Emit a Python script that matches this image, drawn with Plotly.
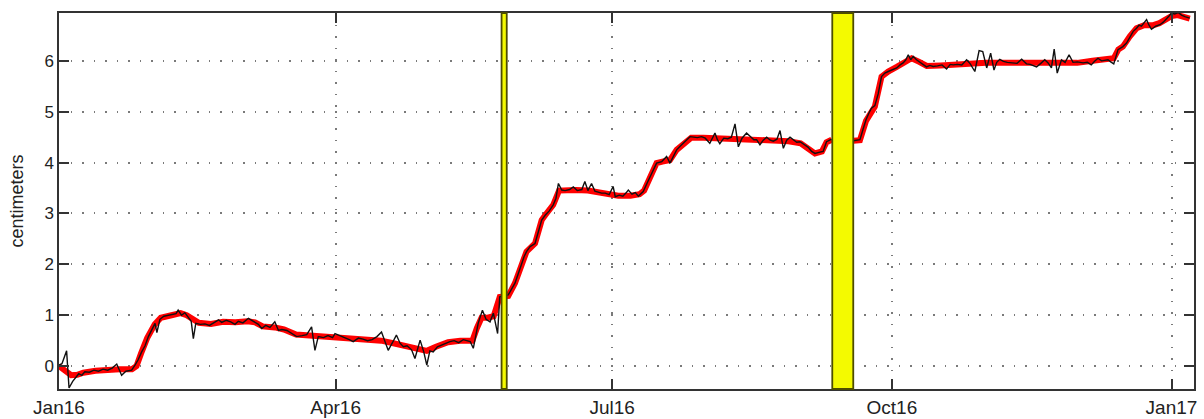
import pandas as pd
import plotly.graph_objects as go

START = "2016-01-01"

# Raw daily position (black thin line): day offsets from START and values (cm)
raw_days = [0, 1, 2.5, 3.3, 4.5, 5.5, 6.5, 7.5, 8.5, 10, 11.5, 13, 14.5, 16, 17.5, 19, 20.6, 22, 23.9,
            25, 26, 27.2, 28.3, 29.4, 30.5, 31.6, 32.2, 33.2, 34.5, 36, 37.5, 38.5, 39.2, 40.3, 41.4,
            42.5, 43.5, 44.2, 45, 46.5, 48, 49.5, 51, 52.5, 53.5, 55, 56.5, 57.9, 59, 60.5, 62.3, 63.4,
            64.5, 65.6, 66.7, 68, 69.4, 71, 72.2, 73.3, 75, 76.5, 78.2, 80, 81.5, 83.1, 84.2, 85.3, 87,
            88.5, 90, 90.8, 92.5, 94, 95.5, 96.8, 98.5, 100, 101.5, 103, 104.6, 106.1, 107.2, 108.3,
            109.6, 111, 112.2, 113.3, 114.5, 116, 117.1, 118, 118.8, 120, 121, 122, 123.1, 124.5, 126,
            127.5, 128.6, 130, 131.5, 133, 134.5, 135.3, 136.3, 137.2, 137.9, 139.3, 140.5, 141.8,
            142.9, 144.3, 145,
            147.8, 149, 150, 151, 152.2, 153, 153.8, 155, 156.6, 157.5, 158.8, 160, 161.3, 162.6, 163.5,
            164.3, 165.4, 166.5, 168, 169.2, 170.5, 172, 173, 174, 175.2, 176.3, 177.5, 178.5, 179.7,
            181, 182.3, 183, 184.3, 185.5, 186.5, 187.3, 188.5, 189.6, 190.6, 192.2, 193.5, 195, 196.6,
            198.3, 199.9, 201, 202.2, 203.2, 204.5, 205.9, 207.6, 208.8, 210, 211.4, 212.6, 214.1,
            215.8, 216.6, 217.4, 218.7, 220, 221.2, 222.4, 223.5, 224.7, 226.2, 227.5, 228.6, 229.5,
            230.6, 231.7, 232.8, 234, 235, 236.2, 237.2, 238.3, 239.4, 240.5, 241.6, 242.7, 243.8, 245,
            246.5, 247.6, 248.7, 250, 251.4, 252.5, 254.2,
            257.8,
            261.3, 263.5, 264.5, 265.5, 266.5, 267.3, 268.4, 269.5, 270.6, 271.7, 272.8, 274, 275.6,
            276.7, 277.7, 278.6, 279.4, 280.2, 281, 282.1, 283.2, 284.3, 285.4, 286.5, 287.6, 289,
            290.5, 292, 293.2, 294.2, 295.5, 297, 298.6, 299.8, 301.3, 302.7, 303.9, 305.2, 306.5,
            307.6, 308.5, 309.5, 310.7, 312, 313.9, 315.2, 316.7, 318.3, 319.5, 321.6, 323, 324.3,
            325.4, 326.5, 327.4, 328.4, 329.8, 331, 332.3, 333.6, 335, 336.9, 338.3, 339.6, 340.7,
            341.8, 343, 344, 345.1, 346, 347, 348.4, 350, 351.2, 352.3, 353.4, 354.5, 355.3, 356.1,
            357, 357.8, 358.6, 359.4, 360.8, 362.2, 363.3, 364.4, 365.2, 366, 367, 368.2, 369.3,
            370.4, 371.2, 372]
raw_cm = [0.02, 0.05, 0.30, -0.43, -0.30, -0.22, -0.15, -0.18, -0.11, -0.12, -0.08, -0.10, -0.06, -0.08,
          -0.04, 0.04, -0.18, -0.10, -0.08,
          0.02, 0.12, 0.28, 0.40, 0.58, 0.70, 0.84, 0.66, 0.92, 0.98, 1.00, 1.02, 1.03, 1.10, 1.00, 1.05,
          0.95, 0.88, 0.54, 0.84, 0.82, 0.83, 0.80, 0.85, 0.91, 0.86, 0.90, 0.87, 0.82, 0.88, 0.85, 0.94,
          0.90, 0.87, 0.82, 0.74, 0.80, 0.76, 0.87, 0.70, 0.72, 0.70, 0.65, 0.58, 0.60, 0.62, 0.77, 0.31,
          0.58, 0.56, 0.60, 0.56, 0.64, 0.60, 0.56, 0.52, 0.48, 0.55, 0.53, 0.50, 0.52, 0.58, 0.67, 0.50,
          0.31, 0.45, 0.61, 0.45, 0.38, 0.40, 0.32, 0.15, 0.32, 0.51, 0.28, 0.02, 0.30, 0.28, 0.38, 0.42,
          0.46, 0.48, 0.50, 0.46, 0.52, 0.50, 0.48, 0.35, 0.60, 0.84, 1.10, 0.92, 0.87, 1.04, 0.64, 1.36,
          1.40, 1.52, 1.63, 1.80, 2.02, 2.15, 2.25, 2.35, 2.41, 2.60, 2.87, 2.97, 3.05, 3.17, 3.30, 3.59,
          3.46, 3.45, 3.47, 3.52, 3.45, 3.47, 3.63, 3.45, 3.59, 3.44, 3.42, 3.40, 3.40, 3.37, 3.53, 3.33,
          3.36, 3.34, 3.40, 3.46, 3.38, 3.41, 3.34, 3.43, 3.60, 3.79, 3.99, 4.02, 4.12, 3.99, 4.15, 4.25,
          4.33, 4.41, 4.51, 4.50, 4.49, 4.51, 4.48, 4.38, 4.58, 4.45, 4.37, 4.48, 4.47, 4.50, 4.76, 4.31,
          4.48, 4.58, 4.50, 4.45, 4.45, 4.35, 4.44, 4.50, 4.44, 4.42, 4.46, 4.63, 4.28, 4.44, 4.50, 4.44,
          4.40, 4.41, 4.36, 4.30, 4.22, 4.18, 4.20, 4.22, 4.41, 4.46,
          None,
          4.43, 4.45, 4.65, 4.84, 4.98, 5.07, 5.12, 5.35, 5.69, 5.76, 5.79, 5.82, 5.86, 5.92, 5.96, 6.02,
          6.12, 6.02, 6.09, 6.02, 5.97, 5.92, 5.88, 5.91, 5.89, 5.90, 5.92, 5.84, 5.93, 5.92, 5.93, 5.92,
          6.02, 5.94, 5.79, 6.20, 6.18, 5.86, 6.15, 5.82, 5.97, 6.03, 5.99, 5.97, 5.96, 5.95, 6.03, 5.94,
          5.93, 5.88, 5.95, 6.02, 5.96, 5.86, 6.23, 5.76, 6.02, 5.97, 6.12, 5.97, 5.98, 5.96, 5.97, 5.92,
          5.99, 6.05, 6.00, 6.01, 6.02, 5.98, 5.94, 6.22, 6.28, 6.35, 6.48, 6.58, 6.64, 6.70, 6.68, 6.74,
          6.81, 6.70, 6.62, 6.68, 6.71, 6.76, 6.82, 6.88, 6.94, 6.92, 6.95, 6.90, 6.87, 6.86, 6.84]

# Smoothed position (thick red line)
fit_days = [0, 2, 4, 6, 8, 12, 16, 20, 24, 25.5, 27, 29, 31.5, 33.5, 37, 40, 42, 44, 46, 50, 54, 58,
            62, 64.5, 67, 71, 74, 78, 82, 86, 91, 96, 102, 106, 110, 114, 118, 121, 124, 128, 132, 136,
            137.5, 139, 141, 143, 145, 147.8, 150, 152.2, 153.8, 156.6, 158.8, 160, 162.6, 164.5, 166,
            170, 174, 178, 181, 184, 188, 191, 192.5, 195, 196.6, 198.5, 201, 203.2, 206, 208, 212, 216,
            220, 224, 228, 232, 236, 240, 244, 246.5, 248.7, 251, 252.5, 254.2,
            257.8,
            261.3, 263.5, 265.5, 268.4, 270.6, 272.8, 275.6, 278, 280.5, 283, 285.5, 290, 295, 300, 305,
            310, 315, 320, 325, 330, 335, 340, 345, 347, 348.5, 350, 352.3, 354.5, 357, 360, 362, 364.5,
            366, 368, 370.4, 372]
fit_cm = [0.0, -0.08, -0.18, -0.17, -0.13, -0.09, -0.07, -0.06, -0.06, 0.0, 0.25, 0.55, 0.82, 0.95,
          1.00, 1.04, 1.00, 0.92, 0.85, 0.83, 0.87, 0.86, 0.88, 0.86, 0.78, 0.76, 0.72, 0.62, 0.60, 0.58,
          0.58, 0.55, 0.52, 0.50, 0.45, 0.40, 0.33, 0.30, 0.38, 0.47, 0.50, 0.50, 0.75, 0.95, 0.95, 0.98,
          1.36, 1.38, 1.63, 2.02, 2.25, 2.41, 2.87, 2.97, 3.17, 3.45, 3.46, 3.46, 3.45, 3.41, 3.37, 3.35,
          3.35, 3.38, 3.45, 3.79, 3.99, 4.02, 4.05, 4.25, 4.41, 4.49, 4.49, 4.47, 4.47, 4.46, 4.45, 4.44,
          4.43, 4.42, 4.38, 4.28, 4.18, 4.22, 4.40, 4.45,
          None,
          4.43, 4.44, 4.82, 5.10, 5.69, 5.79, 5.88, 5.97, 6.05, 5.98, 5.90, 5.91, 5.93, 5.94, 5.96, 5.96,
          5.96, 5.95, 5.97, 5.97, 5.96, 6.00, 6.02, 6.05, 6.22, 6.28, 6.48, 6.64, 6.70, 6.70, 6.74, 6.82,
          6.88, 6.90, 6.86, 6.83]

# Highlighted periods (day offsets: start, end)
band_starts = [145.6, 254.4]
band_ends = [147.3, 261.3]

# Axis ticks
x_tick_dates = ["2016-01-01", "2016-04-01", "2016-07-01", "2016-10-01", "2017-01-01"]
x_tick_labels = ["Jan16", "Apr16", "Jul16", "Oct16", "Jan17"]
y_tick_vals = [0, 1, 2, 3, 4, 5, 6]

t0 = pd.Timestamp(START)
def to_dates(days):
    return [t0 + pd.Timedelta(days=d) for d in days]

fig = go.Figure()
fig.add_trace(go.Scatter(x=to_dates(fit_days), y=fit_cm, mode="lines",
                         line=dict(color="#ff0000", width=6), connectgaps=False,
                         hoverinfo="skip"))
fig.add_trace(go.Scatter(x=to_dates(raw_days), y=raw_cm, mode="lines",
                         line=dict(color="#111111", width=1.4), connectgaps=False))

for s, e in zip(band_starts, band_ends):
    fig.add_shape(type="rect", xref="x", yref="paper",
                  x0=t0 + pd.Timedelta(days=s), x1=t0 + pd.Timedelta(days=e), y0=0, y1=1,
                  fillcolor="#f4fa00", line=dict(color="#4d4d00", width=1.8), layer="above")

axis_common = dict(showline=True, linecolor="#333333", linewidth=1.5, mirror="ticks",
                   ticks="inside", ticklen=10, tickwidth=1.5, tickcolor="#333333",
                   showgrid=True, gridcolor="#7a7a7a", gridwidth=1.5, griddash="1.5px,10px",
                   zeroline=False, automargin=False)

fig.update_xaxes(type="date", range=[t0, t0 + pd.Timedelta(days=373.4)],
                 tickvals=x_tick_dates, ticktext=x_tick_labels,
                 tickfont=dict(family="Liberation Sans", size=19, color="#222222"), **axis_common)
fig.update_yaxes(range=[-0.45, 6.94], tickvals=y_tick_vals,
                 tickfont=dict(family="Liberation Sans", size=17, color="#222222"),
                 title=dict(text="centimeters", font=dict(family="Liberation Sans", size=18, color="#222222"),
                            standoff=16),
                 **axis_common)

fig.update_layout(width=1204, height=419, margin=dict(l=59, r=10, t=13, b=30),
                  plot_bgcolor="white", paper_bgcolor="white", showlegend=False)

fig.write_html("out.html", config={"displayModeBar": False},
               post_script="document.body.style.margin='0';document.body.style.overflow='hidden';")
